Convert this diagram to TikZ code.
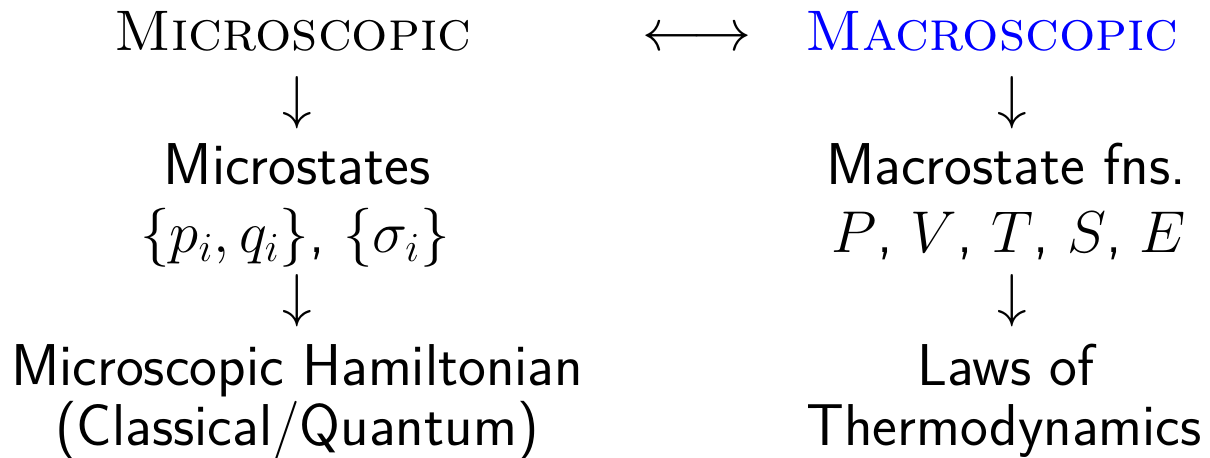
\RequirePackage{fix-cm}
\documentclass[tikz,border=0pt]{standalone}
\usepackage{fontspec}
\usepackage{amsmath}
\begin{document}
\begin{tikzpicture}[x=0.5pt,y=-0.5pt,
  txt/.style={inner sep=0pt,anchor=base,font=\sffamily\fontsize{29.5}{35}\selectfont},
  head/.style={inner sep=0pt,anchor=base,font=\rmfamily\scshape\fontsize{28.6}{34}\selectfont},
  arr/.style={inner sep=0pt,anchor=base,font=\fontsize{29.5}{35}\selectfont}]
\useasboundingbox (0,0) rectangle (1210,458);
% left column: microscopic description
\node[head] (mic) at (293,51) {Microscopic};
\node[arr]  (a1)  at (297,118) {$\downarrow$};
\node[txt]  (ms)  at (297,185) {Microstates};
\node[txt]  (pq)  at (295,253) {$\{p_i,q_i\}$, $\{\sigma_i\}$};
\node[arr]  (a2)  at (297,316) {$\downarrow$};
\node[txt]  (ham) at (297,386) {Microscopic Hamiltonian};
\node[txt]  (cq)  at (297,446) {(Classical/Quantum)};
% link between the two descriptions
\node[arr]  (lr)  at (697,51) {$\longleftrightarrow$};
% right column: macroscopic description
\node[head,text=blue] (mac) at (992,51) {Macroscopic};
\node[arr]  (b1)  at (1012,118) {$\downarrow$};
\node[txt]  (mf)  at (1006,185) {Macrostate fns.};
\node[txt]  (pv)  at (1009,253) {$P$, $V$, $T$, $S$, $E$};
\node[arr]  (b2)  at (1012,316) {$\downarrow$};
\node[txt]  (lw)  at (1006,386) {Laws of};
\node[txt]  (th)  at (1004,446) {Thermodynamics};
\end{tikzpicture}
\end{document}
